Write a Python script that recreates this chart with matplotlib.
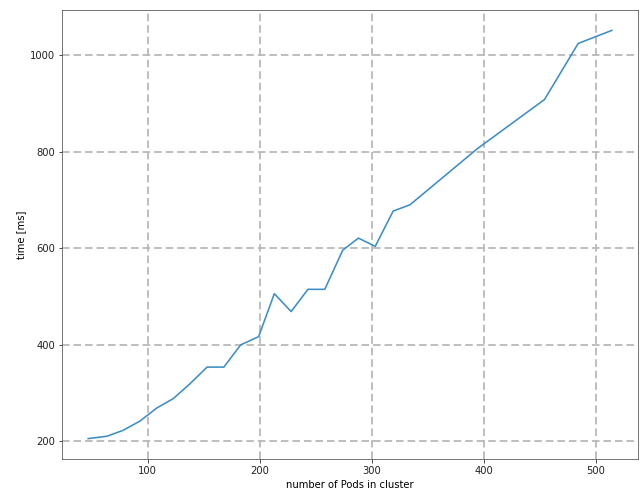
import matplotlib
matplotlib.use("Agg")
import matplotlib.pyplot as plt

pods = [47, 64, 78, 93, 108, 123, 138, 153, 168, 183, 199, 213, 228, 243, 258,
        274, 288, 303, 319, 334, 394, 424, 454, 484, 514]
time_ms = [206, 211, 223, 242, 269, 289, 320, 354, 354, 400, 417, 506, 469, 515, 515,
           596, 621, 604, 677, 690, 806, 857, 908, 1024, 1051]

fig = plt.figure(figsize=(640 / 72, 493 / 72), dpi=72)
ax = fig.add_axes([62 / 640, 1 - 459 / 493, (638 - 62) / 640, (459 - 10) / 493])
ax.plot(pods, time_ms, color="#3d8ec6", linewidth=1.6)
ax.grid(True, linestyle=(0, (4.2, 2.2)), color="#b8b8b8", linewidth=1.8)
ax.set_axisbelow(True)
ax.set_xticks([100, 200, 300, 400, 500])
ax.set_yticks([200, 400, 600, 800, 1000])
ax.set_xlabel("number of Pods in cluster", fontsize=10)
ax.set_ylabel("time [ms]", fontsize=10)
ax.tick_params(labelsize=10, colors="#222222")
for s in ax.spines.values():
    s.set_color("#555555")
fig.savefig("out.png", dpi=72)
